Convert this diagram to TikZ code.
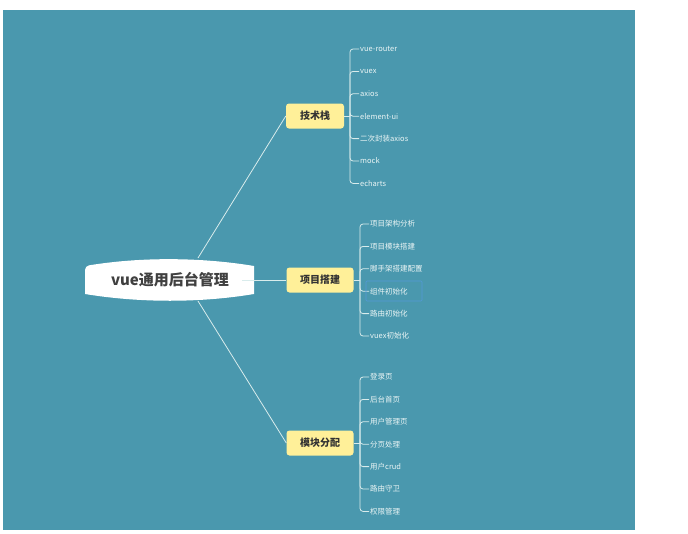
\documentclass[tikz,border=0pt]{standalone}
\usepackage{fontspec}
\setmainfont{Noto Sans CJK SC}
\begin{document}
\begin{tikzpicture}[x=1pt,y=-1pt,
    line/.style={draw=white!85!teal, line width=0.8pt},
    branch/.style={fill=orange!30!yellow!40, rounded corners=3pt, inner sep=0pt,
      minimum height=25pt, font=\bfseries\fontsize{10}{12}\selectfont, text=black!80},
    leaf/.style={anchor=west, inner sep=1pt, text=white!92!teal, font=\fontsize{7.5}{9}\selectfont}]
  \useasboundingbox (0,0) rectangle (688,533);
  \fill[white] (0,0) rectangle (688,533);
  \fill[fill={rgb,255:red,74;green,152;blue,174}] (3,10) rectangle (635,530);
  % root
  \fill[white] (85,266) .. controls (140,257) and (200,257) .. (254,266)
      -- (254,294) .. controls (200,303) and (140,303) .. (85,294)
      [rounded corners=4pt] -- cycle;
  \node (root) at (170,280) [font=\bfseries\fontsize{15}{18}\selectfont, text=black!75] {vue通用后台管理};
  % branches
  \node (tech) [branch, minimum width=58pt] at (315,116) {技术栈};
  \node (build) [branch, minimum width=67pt] at (320,280) {项目搭建};
  \node (mods) [branch, minimum width=67pt] at (320,443) {模块分配};
  \draw[line] (198,258) -- (tech.west);
  \draw[line] (root.east) ++(10,0) -- (build.west);
  \draw[line] (198,301) -- (mods.west);
  % leaves
  \coordinate (tb) at (350,116);
  \coordinate (bb) at (360,280);
  \coordinate (mb) at (360,443);
  \draw[line] (tech.east) -- (tb);
  \draw[line] (build.east) -- (bb);
  \draw[line] (mods.east) -- (mb);
  \foreach \t [count=\i] in {vue-router,vuex,axios,element-ui,二次封装axios,mock,echarts} {
    \node (t\i) [leaf] at (359,49+22.4*\i-22.4) {\t};
    \draw[line, rounded corners=3pt] (t\i.west) -| (tb);
  }
  \foreach \t [count=\i] in {项目架构分析,项目模块搭建,脚手架搭建配置,组件初始化,路由初始化,vuex初始化} {
    \node (b\i) [leaf] at (369,224+22.4*\i-22.4) {\t};
    \draw[line, rounded corners=3pt] (b\i.west) -| (bb);
  }
  \foreach \t [count=\i] in {登录页,后台首页,用户管理页,分页处理,用户crud,路由守卫,权限管理} {
    \node (m\i) [leaf] at (369,377+22.4*\i-22.4) {\t};
    \draw[line, rounded corners=3pt] (m\i.west) -| (mb);
  }
  \draw[cyan!60!blue!70, line width=0.6pt, rounded corners=1pt] (366,281) rectangle (422,301);
\end{tikzpicture}
\end{document}
